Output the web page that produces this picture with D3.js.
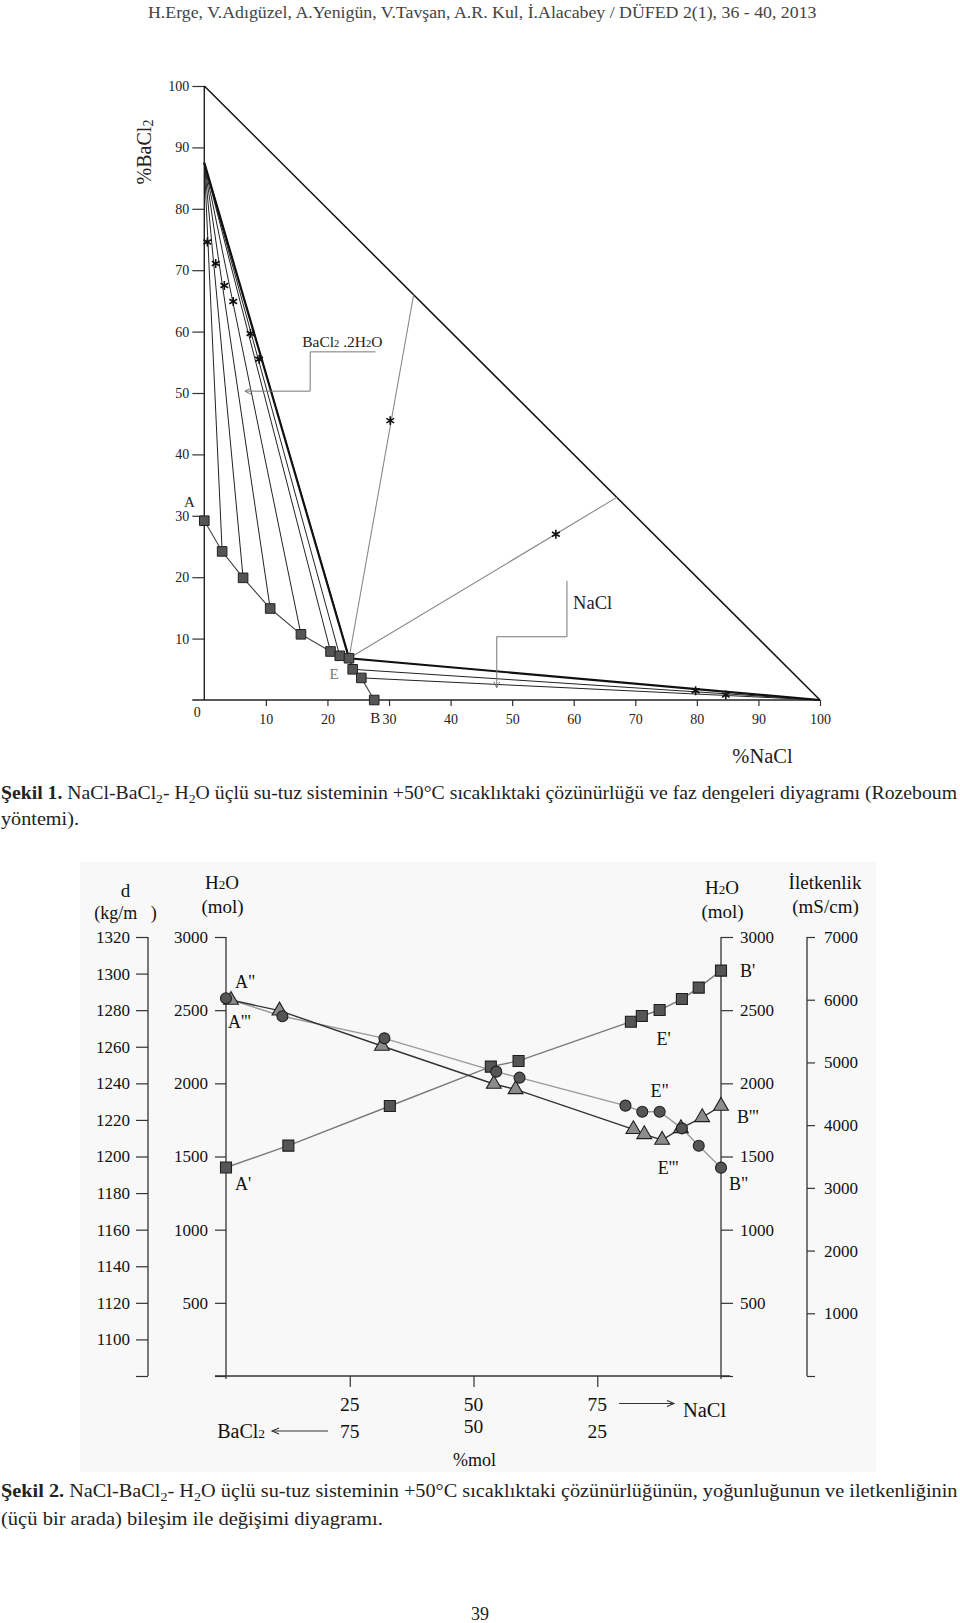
<!DOCTYPE html>
<html><head><meta charset="utf-8">
<script src="https://cdn.jsdelivr.net/npm/d3@7"></script>
<style>
html,body{margin:0;padding:0;background:#fff;}
svg text{font-family:"Liberation Serif","DejaVu Serif",serif; white-space:pre;}
</style></head><body>
<script>
// ================= DATA =================
const headerText = "H.Erge, V.Adıgüzel, A.Yenigün, V.Tavşan, A.R. Kul, İ.Alacabey / DÜFED 2(1), 36 - 40, 2013";

// ---- Figure 1 : Rozeboum diagram (mass %) ----
const fig1Ticks = [10, 20, 30, 40, 50, 60, 70, 80, 90, 100];
// solubility isotherm A -> E -> B
const solNaCl  = [0, 2.9, 6.3, 10.7, 15.7, 20.5, 22.0, 23.5, 24.1, 25.5, 27.6];
const solBaCl2 = [29.2, 24.2, 19.9, 14.9, 10.7, 7.9, 7.2, 6.8, 5.0, 3.6, 0];
const eutonicIdx = 7;
// pure components / solid phases
const cornerNaCl  = [0, 100];
const cornerBaCl2 = [100, 0];
const hydrateNaCl = 0, hydrateBaCl2 = 87.5;   // BaCl2.2H2O
const tieHydrateIdx = [1, 2, 3, 4, 5, 6, 8];
const tieNaClIdx = [8, 9];
// wet residues (stars)
const resNaCl  = [0.5, 1.85, 3.25, 4.7, 7.5, 8.9, 30.2, 57.1, 79.8, 84.7];
const resBaCl2 = [74.6, 71.1, 67.5, 64.9, 59.7, 55.5, 45.5, 27.0, 1.5, 0.8];
// rays from eutonic point to the hypotenuse
const rayNaCl  = [34, 67];
const rayBaCl2 = [66, 33];

// ---- Figure 2 : composition dependence (mol %) ----
const dTicks    = [1080, 1100, 1120, 1140, 1160, 1180, 1200, 1220, 1240, 1260, 1280, 1300, 1320];
const h2oTicks  = [0, 500, 1000, 1500, 2000, 2500, 3000];
const condTicks = [0, 1000, 2000, 3000, 4000, 5000, 6000, 7000];
const molTicks  = [25, 50, 75];
// solubility (squares, mol H2O)
const sqNaCl = [0, 12.6, 33.1, 53.5, 59.1, 81.8, 84.0, 87.6, 92.1, 95.5, 100];
const sqH2O  = [1425, 1574, 1845, 2114, 2153, 2421, 2460, 2501, 2576, 2654, 2770];
// density (circles, kg/m3)
const ciNaCl = [0, 11.4, 32.0, 54.6, 59.3, 80.7, 84.1, 87.6, 92.1, 95.5, 100];
const ciDens = [1286.5, 1276.7, 1264.6, 1246.4, 1243.1, 1227.8, 1224.5, 1224.5, 1215.4, 1205.9, 1193.9];
// conductivity (triangles, mS/cm)
const trNaCl = [1, 10.8, 31.5, 54.1, 58.5, 82.3, 84.5, 88.1, 91.9, 96.2, 100];
const trCond = [5995, 5825, 5262, 4656, 4571, 3934, 3854, 3763, 3949, 4125, 4305];

// ================= DRAW =================
const W = 960, H = 1623;
const svg = d3.select("body").append("svg").attr("width", W).attr("height", H);
svg.append("rect").attr("width", W).attr("height", H).attr("fill", "#fff");

function fitX(t, x0, w) {
  const b = t.node().getBBox();
  const k = w / b.width;
  t.attr("transform", `translate(${x0},0) scale(${k},1) translate(${-b.x},0)`);
}
function rich(parent, x, y, size, parts, fill) {
  const t = parent.append("text").attr("x", x).attr("y", y).attr("font-size", size).attr("fill", fill || "#222");
  parts.forEach(p => {
    const ts = t.append("tspan").text(p.t);
    if (p.b) ts.attr("font-weight", "bold");
    if (p.fs) ts.attr("font-size", p.fs);
    if (p.dy) ts.attr("dy", p.dy);
  });
  return t;
}
function styleAxis(g, fs, fill) {
  g.attr("font-family", null);
  g.select(".domain").remove();
  g.selectAll(".tick line").attr("stroke", "#333").attr("stroke-width", 1.2);
  g.selectAll(".tick text").attr("font-size", fs).attr("fill", fill || "#222");
}
const asterisk = {
  draw(ctx, size) {
    const r = Math.sqrt(size) * 0.6, t = r / 2, u = t * Math.sqrt(3);
    ctx.moveTo(0, r); ctx.lineTo(0, -r);
    ctx.moveTo(-u, -t); ctx.lineTo(u, t);
    ctx.moveTo(-u, t); ctx.lineTo(u, -t);
  }
};

// ---- header ----
const hdr = svg.append("text").attr("y", 18).attr("font-size", 16).attr("fill", "#444").text(headerText);
fitX(hdr, 148, 669);

// ================= FIGURE 1 =================
const x1 = d3.scaleLinear([0, 100], [204.3, 820]);
const y1 = d3.scaleLinear([0, 100], [700, 86]);
const g1 = svg.append("g");
const line = d3.line();

g1.append("g").attr("transform", `translate(${x1(0)},0)`)
  .call(d3.axisLeft(y1).tickValues(fig1Ticks).tickSize(12).tickPadding(3).tickFormat(d3.format("d")))
  .call(g => styleAxis(g, 14));
g1.append("g").attr("transform", `translate(0,${y1(0)})`)
  .call(d3.axisBottom(x1).tickValues(fig1Ticks).tickSize(6).tickPadding(8).tickFormat(d3.format("d")))
  .call(g => styleAxis(g, 14));
g1.append("line").attr("x1", x1(0)).attr("x2", x1(0)).attr("y1", y1(0)).attr("y2", y1(100))
  .attr("stroke", "#222").attr("stroke-width", 1.4);
g1.append("line").attr("x1", x1(0) - 12).attr("x2", x1(100)).attr("y1", y1(0)).attr("y2", y1(0))
  .attr("stroke", "#222").attr("stroke-width", 1.4);
g1.append("text").attr("x", x1(0) - 7).attr("y", y1(0) + 17).attr("text-anchor", "middle")
  .attr("font-size", 14).attr("fill", "#222").text("0");

// hypotenuse
g1.append("path").attr("d", line(cornerNaCl.map((v, i) => [x1(v), y1(cornerBaCl2[i])])))
  .attr("stroke", "#111").attr("stroke-width", 1.5).attr("fill", "none");

const sol = solNaCl.map((v, i) => [x1(v), y1(solBaCl2[i])]);
const hyd = [x1(hydrateNaCl), y1(hydrateBaCl2)];
const nacl = [x1(100), y1(0)];
const E = sol[eutonicIdx];

rayNaCl.forEach((v, i) => {
  g1.append("path").attr("d", line([E, [x1(v), y1(rayBaCl2[i])]]))
    .attr("stroke", "#888").attr("stroke-width", 1.1).attr("fill", "none");
});
tieHydrateIdx.forEach(i => {
  g1.append("path").attr("d", line([hyd, sol[i]])).attr("stroke", "#222").attr("stroke-width", 1).attr("fill", "none");
});
tieNaClIdx.forEach(i => {
  g1.append("path").attr("d", line([sol[i], nacl])).attr("stroke", "#222").attr("stroke-width", 1).attr("fill", "none");
});
g1.append("path").attr("d", line([hyd, E, nacl])).attr("stroke", "#111").attr("stroke-width", 2.2).attr("fill", "none");
g1.append("path").attr("d", line(sol)).attr("stroke", "#444").attr("stroke-width", 1.1).attr("fill", "none");
g1.selectAll(".sq1").data(sol).join("path")
  .attr("transform", d => `translate(${d[0]},${d[1]})`)
  .attr("d", d3.symbol(d3.symbolSquare, 92)())
  .attr("fill", "#555").attr("stroke", "#222").attr("stroke-width", 1);
g1.selectAll(".st").data(resNaCl.map((v, i) => [x1(v), y1(resBaCl2[i])])).join("path")
  .attr("transform", d => `translate(${d[0]},${d[1]})`)
  .attr("d", d3.symbol(asterisk, 56)())
  .attr("fill", "none").attr("stroke", "#111").attr("stroke-width", 1.6);

// point labels
g1.append("text").attr("x", sol[0][0] - 15).attr("y", sol[0][1] - 14).attr("text-anchor", "middle").attr("font-size", 15).attr("fill", "#222").text("A");
g1.append("text").attr("x", E[0] - 15).attr("y", E[1] + 21).attr("text-anchor", "middle").attr("font-size", 15).attr("fill", "#777").text("E");
const B = sol[sol.length - 1];
g1.append("text").attr("x", B[0] + 1).attr("y", B[1] + 23).attr("text-anchor", "middle").attr("font-size", 15).attr("fill", "#222").text("B");

// BaCl2.2H2O callout
const cg = "#777";
g1.append("path").attr("d", line([[x1(27.8), y1(56.7)], [x1(17.2), y1(56.7)], [x1(17.2), y1(50.3)], [x1(6.6), y1(50.3)]]))
  .attr("stroke", cg).attr("stroke-width", 1).attr("fill", "none");
g1.append("path").attr("d", line([[x1(6.6) + 6, y1(50.3) - 3], [x1(6.6), y1(50.3)], [x1(6.6) + 6, y1(50.3) + 3]]))
  .attr("stroke", cg).attr("stroke-width", 1).attr("fill", "none");
rich(g1, x1(15.9), y1(57.5), 15.5, [
  { t: "BaCl" }, { t: "2", fs: 10.5 }, { t: " .2H" }, { t: "2", fs: 10.5 }, { t: "O" }
], "#222");

// NaCl callout
g1.append("path").attr("d", line([[x1(58.9), y1(19.4)], [x1(58.9), y1(10.3)], [x1(47.5), y1(10.3)], [x1(47.5), y1(2.0)]]))
  .attr("stroke", cg).attr("stroke-width", 1).attr("fill", "none");
g1.append("path").attr("d", line([[x1(47.5) - 3, y1(2.0) - 6], [x1(47.5), y1(2.0)], [x1(47.5) + 3, y1(2.0) - 6]]))
  .attr("stroke", cg).attr("stroke-width", 1).attr("fill", "none");
g1.append("text").attr("x", x1(59.9)).attr("y", y1(14.8)).attr("font-size", 18.5).attr("fill", "#222").text("NaCl");

// axis titles
g1.append("text").attr("x", 762.5).attr("y", 763).attr("text-anchor", "middle").attr("font-size", 20.5).attr("fill", "#222").text("%NaCl");
rich(g1, 0, 0, 20, [{ t: "%BaCl" }, { t: "2", fs: 14, dy: 2 }], "#222")
  .attr("text-anchor", "middle").attr("transform", "translate(151,152) rotate(-90)");

// caption 1
const c1 = rich(svg, 0, 799, 18, [
  { t: "Şekil 1.", b: true }, { t: " NaCl-BaCl" }, { t: "2", fs: 12.5, dy: 4 }, { t: "- H", dy: -4 },
  { t: "2", fs: 12.5, dy: 4 }, { t: "O üçlü su-tuz sisteminin +50°C sıcaklıktaki çözünürlüğü ve faz dengeleri diyagramı (Rozeboum", dy: -4 }
]);
fitX(c1, 1, 957);
const c1b = svg.append("text").attr("y", 825).attr("font-size", 18).attr("fill", "#222").text("yöntemi).");
fitX(c1b, 1, 78);

// ================= FIGURE 2 =================
const g2 = svg.append("g");
g2.append("rect").attr("x", 80).attr("y", 862).attr("width", 796).attr("height", 610).attr("fill", "#f8f8f8");
const xm = d3.scaleLinear([0, 100], [226, 721]);
const yH = d3.scaleLinear([0, 3000], [1376, 937]);
const yD = d3.scaleLinear([1080, 1320], [1376, 937]);
const yC = d3.scaleLinear([0, 7000], [1376, 937]);
const fs2 = 17, tc = "#111";

g2.append("g").attr("transform", "translate(148,0)")
  .call(d3.axisLeft(yD).tickValues(dTicks).tickSize(12).tickPadding(6).tickFormat(d => d === 1080 ? "" : d))
  .call(g => styleAxis(g, fs2, tc));
g2.append("line").attr("x1", 148).attr("x2", 148).attr("y1", yD(1320)).attr("y2", yD(1080)).attr("stroke", "#333").attr("stroke-width", 1.3);
g2.append("g").attr("transform", `translate(${xm(0)},0)`)
  .call(d3.axisLeft(yH).tickValues(h2oTicks).tickSize(11).tickPadding(7).tickFormat(d => d === 0 ? "" : d))
  .call(g => styleAxis(g, fs2, tc));
g2.append("line").attr("x1", xm(0)).attr("x2", xm(0)).attr("y1", yH(3000)).attr("y2", yH(0) + 3).attr("stroke", "#333").attr("stroke-width", 1.3);
g2.append("g").attr("transform", `translate(${xm(100)},0)`)
  .call(d3.axisRight(yH).tickValues(h2oTicks).tickSize(12).tickPadding(7).tickFormat(d => d === 0 ? "" : d))
  .call(g => styleAxis(g, fs2, tc));
g2.append("line").attr("x1", xm(100)).attr("x2", xm(100)).attr("y1", yH(3000)).attr("y2", yH(0) + 3).attr("stroke", "#333").attr("stroke-width", 1.3);
g2.append("g").attr("transform", "translate(807,0)")
  .call(d3.axisRight(yC).tickValues(condTicks).tickSize(8).tickPadding(9).tickFormat(d => d === 0 ? "" : d))
  .call(g => styleAxis(g, fs2, tc));
g2.append("line").attr("x1", 807).attr("x2", 807).attr("y1", yC(7000)).attr("y2", yC(0)).attr("stroke", "#333").attr("stroke-width", 1.3);
g2.append("g").attr("transform", `translate(0,${yH(0)})`)
  .call(d3.axisBottom(xm).tickValues(molTicks).tickSize(11).tickFormat(""))
  .call(g => styleAxis(g, 19));
g2.append("line").attr("x1", xm(0) - 11).attr("x2", xm(100) + 9).attr("y1", yH(0)).attr("y2", yH(0)).attr("stroke", "#333").attr("stroke-width", 1.3);
molTicks.forEach(v => {
  g2.append("text").attr("x", xm(v)).attr("y", 1411).attr("text-anchor", "middle").attr("font-size", 19.5).attr("fill", tc).text(v);
  g2.append("text").attr("x", xm(v)).attr("y", v === 50 ? 1433 : 1438).attr("text-anchor", "middle").attr("font-size", 19.5).attr("fill", tc).text(100 - v);
});
g2.append("path").attr("d", line([[xm(79.4), 1403.5], [xm(90.5), 1403.5]])).attr("stroke", "#333").attr("stroke-width", 1.1);
g2.append("path").attr("d", line([[xm(90.5) - 7, 1400.5], [xm(90.5), 1403.5], [xm(90.5) - 7, 1406.5]])).attr("stroke", "#333").attr("stroke-width", 1.1).attr("fill", "none");
g2.append("text").attr("x", xm(92.3)).attr("y", 1417).attr("font-size", 20.5).attr("fill", tc).text("NaCl");
g2.append("path").attr("d", line([[xm(20.6), 1431], [xm(9.3), 1431]])).attr("stroke", "#333").attr("stroke-width", 1.1);
g2.append("path").attr("d", line([[xm(9.3) + 7, 1428], [xm(9.3), 1431], [xm(9.3) + 7, 1434]])).attr("stroke", "#333").attr("stroke-width", 1.1).attr("fill", "none");
rich(g2, xm(7.9), 1438, 20, [{ t: "BaCl" }, { t: "2", fs: 13.5 }], tc).attr("text-anchor", "end");
g2.append("text").attr("x", 474.5).attr("y", 1466).attr("text-anchor", "middle").attr("font-size", 18).attr("fill", tc).text("%mol");

g2.append("text").attr("x", 125.5).attr("y", 897).attr("text-anchor", "middle").attr("font-size", 19).attr("fill", tc).text("d");
g2.append("text").attr("x", 125.5).attr("y", 919).attr("text-anchor", "middle").attr("font-size", 18).attr("fill", tc).text("(kg/m   )");
rich(g2, 222, 889, 19, [{ t: "H" }, { t: "2", fs: 13 }, { t: "O" }], tc).attr("text-anchor", "middle");
g2.append("text").attr("x", 222.5).attr("y", 913).attr("text-anchor", "middle").attr("font-size", 19).attr("fill", tc).text("(mol)");
rich(g2, 722, 894, 19, [{ t: "H" }, { t: "2", fs: 13 }, { t: "O" }], tc).attr("text-anchor", "middle");
g2.append("text").attr("x", 722.5).attr("y", 918).attr("text-anchor", "middle").attr("font-size", 19).attr("fill", tc).text("(mol)");
g2.append("text").attr("x", 825).attr("y", 889).attr("text-anchor", "middle").attr("font-size", 19).attr("fill", tc).text("İletkenlik");
g2.append("text").attr("x", 825.5).attr("y", 913).attr("text-anchor", "middle").attr("font-size", 19).attr("fill", tc).text("(mS/cm)");

const sqPts = sqNaCl.map((v, i) => [xm(v), yH(sqH2O[i])]);
const ciPts = ciNaCl.map((v, i) => [xm(v), yD(ciDens[i])]);
const trPts = trNaCl.map((v, i) => [xm(v), yC(trCond[i])]);
g2.append("path").attr("d", line(sqPts)).attr("fill", "none").attr("stroke", "#7a7a7a").attr("stroke-width", 1.4);
g2.append("path").attr("d", line(ciPts)).attr("fill", "none").attr("stroke", "#9a9a9a").attr("stroke-width", 1.4);
g2.append("path").attr("d", line(trPts)).attr("fill", "none").attr("stroke", "#333").attr("stroke-width", 1.4);
g2.selectAll(".sq2").data(sqPts).join("path")
  .attr("transform", d => `translate(${d[0]},${d[1]})`)
  .attr("d", d3.symbol(d3.symbolSquare, 121)())
  .attr("fill", "#555").attr("stroke", "#1e1e1e").attr("stroke-width", 1.1);
g2.selectAll(".tr2").data(trPts).join("path")
  .attr("transform", d => `translate(${d[0]},${d[1]})`)
  .attr("d", d3.symbol(d3.symbolTriangle, 95)())
  .attr("fill", "#8c8c8c").attr("stroke", "#1e1e1e").attr("stroke-width", 1.1);
g2.selectAll(".ci2").data(ciPts).join("path")
  .attr("transform", d => `translate(${d[0]},${d[1]})`)
  .attr("d", d3.symbol(d3.symbolCircle, 95)())
  .attr("fill", "#555").attr("stroke", "#1e1e1e").attr("stroke-width", 1.1);

const lab = (x, y, t, anchor) => g2.append("text").attr("x", x).attr("y", y).attr("text-anchor", anchor || "start").attr("font-size", 18).attr("fill", tc).text(t);
const n = sqPts.length - 1;
lab(ciPts[0][0] + 9, ciPts[0][1] - 10, "A\"");
lab(trPts[0][0] - 3, trPts[0][1] + 28, "A'''");
lab(sqPts[0][0] + 9, sqPts[0][1] + 23, "A'");
lab(sqPts[eutonicIdx][0] + 4, sqPts[eutonicIdx][1] + 35, "E'", "middle");
lab(ciPts[eutonicIdx][0], ciPts[eutonicIdx][1] - 15, "E\"", "middle");
lab(trPts[eutonicIdx][0] + 6, trPts[eutonicIdx][1] + 34, "E'''", "middle");
lab(sqPts[n][0] + 19, sqPts[n][1] + 6, "B'");
lab(ciPts[n][0] + 8, ciPts[n][1] + 22, "B\"");
lab(trPts[n][0] + 16, trPts[n][1] + 17, "B'''");

// caption 2
const c2 = rich(svg, 0, 1497, 18, [
  { t: "Şekil 2.", b: true }, { t: " NaCl-BaCl" }, { t: "2", fs: 12.5, dy: 4 }, { t: "- H", dy: -4 },
  { t: "2", fs: 12.5, dy: 4 }, { t: "O üçlü su-tuz sisteminin +50°C sıcaklıktaki çözünürlüğünün, yoğunluğunun ve iletkenliğinin", dy: -4 }
]);
fitX(c2, 1, 957);
const c2b = svg.append("text").attr("y", 1525).attr("font-size", 18).attr("fill", "#222").text("(üçü bir arada) bileşim ile değişimi diyagramı.");
fitX(c2b, 1, 382);

svg.append("text").attr("x", 480).attr("y", 1620).attr("text-anchor", "middle").attr("font-size", 18).attr("fill", "#222").text("39");
</script>
</body></html>
